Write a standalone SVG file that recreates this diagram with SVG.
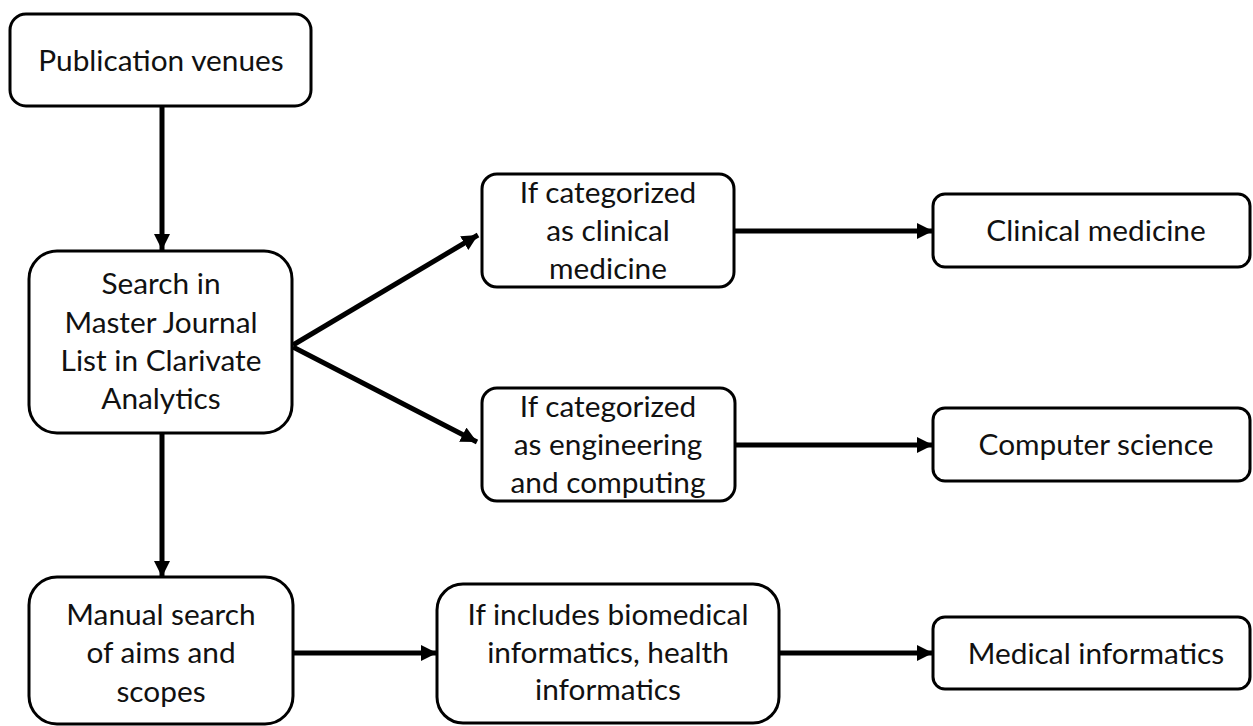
<svg xmlns="http://www.w3.org/2000/svg" width="1253" height="726" viewBox="0 0 1253 726">
<defs>
<marker id="ah" markerUnits="userSpaceOnUse" markerWidth="18" markerHeight="16" refX="16" refY="8" orient="auto">
<path d="M0,0 L16,8 L0,16 Z" fill="#000"/>
</marker>
<style>
.box{fill:#fff;stroke:#000;stroke-width:3}
.t{font-family:Lato,"Liberation Sans",sans-serif;font-size:29.8px;fill:#111;text-anchor:middle}
.c{fill:none;stroke:#000;stroke-width:5;marker-end:url(#ah)}
</style>
</defs>
<rect width="1253" height="726" fill="#fff"/>
<g id="connectors">
<line class="c" x1="162" y1="106" x2="162" y2="250"/>
<line class="c" x1="162" y1="433" x2="162" y2="577"/>
<line class="c" x1="293" y1="345" x2="478" y2="235"/>
<line class="c" x1="293" y1="347" x2="477" y2="442"/>
<line class="c" x1="734" y1="231" x2="933" y2="231"/>
<line class="c" x1="735" y1="445" x2="933" y2="445"/>
<line class="c" x1="293" y1="653" x2="437" y2="653"/>
<line class="c" x1="779" y1="653" x2="933" y2="653"/>
</g>
<g id="n1"><rect class="box" x="10" y="14" width="301" height="92" rx="16"/><text class="t" x="161" y="71">Publication venues</text></g>
<g id="n2"><rect class="box" x="29" y="251" width="263" height="182" rx="28"/>
<text class="t" x="161" y="294">Search in</text><text class="t" x="161" y="333">Master Journal</text><text class="t" x="161" y="371">List in Clarivate</text><text class="t" x="161" y="409">Analytics</text></g>
<g id="n3"><rect class="box" x="482" y="174" width="252" height="113" rx="15"/>
<text class="t" x="608" y="203">If categorized</text><text class="t" x="608" y="241">as clinical</text><text class="t" x="608" y="279">medicine</text></g>
<g id="n4"><rect class="box" x="482" y="388" width="253" height="113" rx="15"/>
<text class="t" x="608" y="417">If categorized</text><text class="t" x="608" y="455">as engineering</text><text class="t" x="608" y="493">and computing</text></g>
<g id="n5"><rect class="box" x="29" y="577" width="264" height="147" rx="28"/>
<text class="t" x="161" y="625">Manual search</text><text class="t" x="161" y="663">of aims and</text><text class="t" x="161" y="702">scopes</text></g>
<g id="n6"><rect class="box" x="437" y="584" width="342" height="139" rx="26"/>
<text class="t" x="608" y="625">If includes biomedical</text><text class="t" x="608" y="663">informatics, health</text><text class="t" x="608" y="700">informatics</text></g>
<g id="n7"><rect class="box" x="933" y="194" width="317" height="73" rx="12"/><text class="t" x="1096" y="241">Clinical medicine</text></g>
<g id="n8"><rect class="box" x="933" y="408" width="317" height="73" rx="12"/><text class="t" x="1096" y="455">Computer science</text></g>
<g id="n9"><rect class="box" x="933" y="617" width="317" height="72" rx="12"/><text class="t" x="1096" y="664">Medical informatics</text></g>
</svg>
